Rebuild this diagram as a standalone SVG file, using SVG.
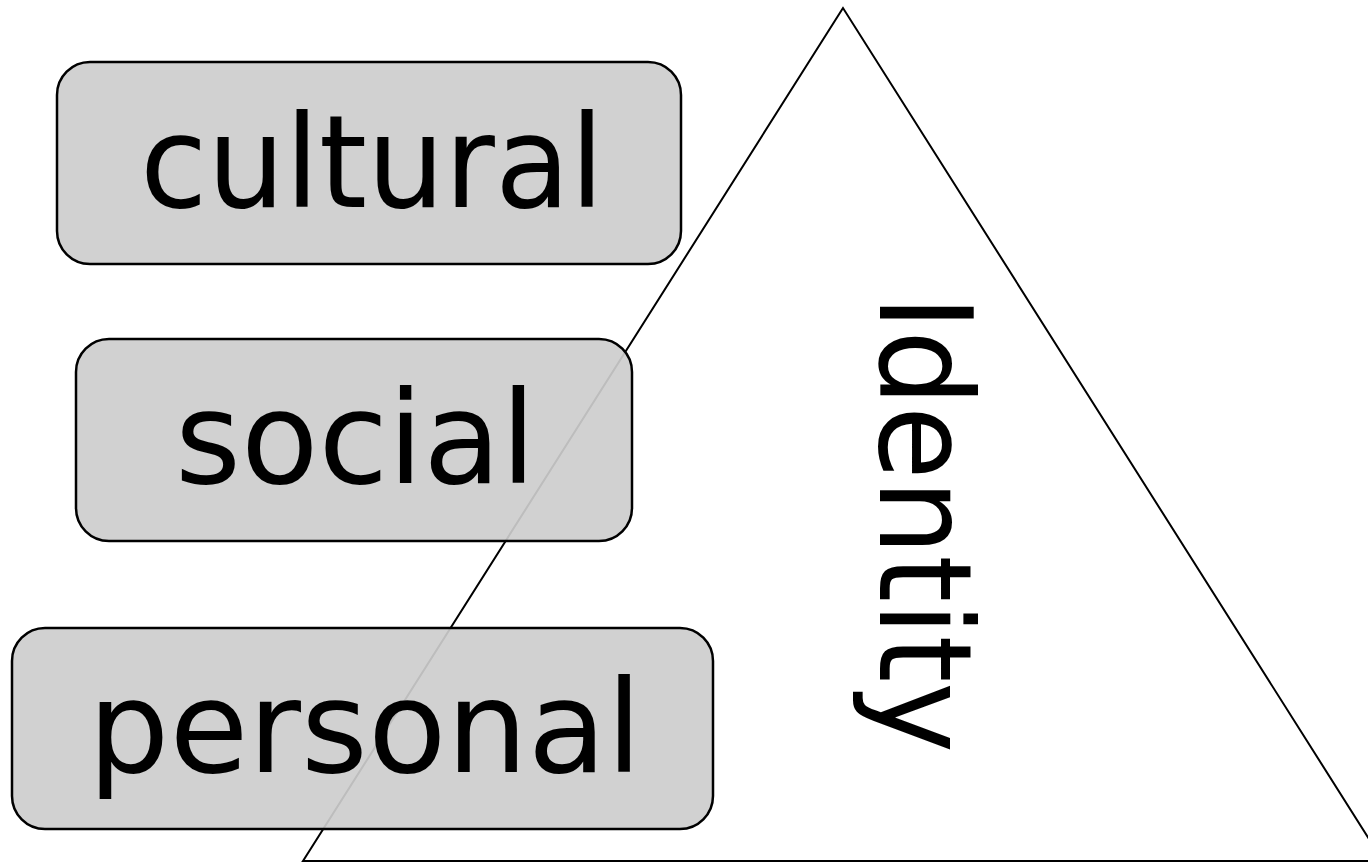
<svg xmlns="http://www.w3.org/2000/svg" width="1368" height="863" viewBox="0 0 1368 863">
<style>
.box{fill:#cdcdcd;fill-opacity:0.92;stroke:#000;stroke-width:2.5}
.lbl{font-family:"DejaVu Sans","Liberation Sans",sans-serif;font-size:128px;fill:#000}
.tri{fill:none;stroke:#000;stroke-width:2}
</style>
<rect width="1368" height="863" fill="#fff"/>
<g id="pyramid">
<polygon class="tri" points="843,8 303,861 1383,861"/>
<text class="lbl" transform="translate(880,295) rotate(90)" x="0" y="0" textLength="458" lengthAdjust="spacingAndGlyphs">Identity</text>
</g>
<g id="cultural">
<rect class="box" x="57" y="62" width="624" height="202" rx="33"/>
<text class="lbl" x="140" y="207" textLength="464" lengthAdjust="spacingAndGlyphs">cultural</text>
</g>
<g id="social">
<rect class="box" x="76" y="339" width="556" height="202" rx="33"/>
<text class="lbl" x="175" y="483" textLength="361" lengthAdjust="spacingAndGlyphs">social</text>
</g>
<g id="personal">
<rect class="box" x="12" y="628" width="701" height="201" rx="33"/>
<text class="lbl" x="88" y="772" textLength="554" lengthAdjust="spacingAndGlyphs">personal</text>
</g>
<g id="connectors"></g>
</svg>
